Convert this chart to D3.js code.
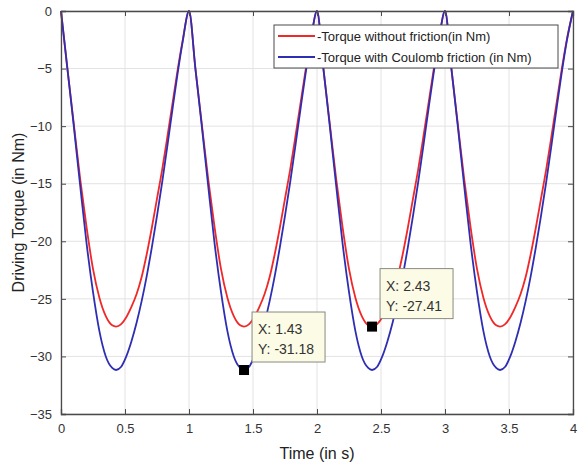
<!DOCTYPE html>
<html>
<head>
<meta charset="utf-8">
<script src="https://cdn.jsdelivr.net/npm/d3@7"></script>
<style>
  html, body { margin: 0; padding: 0; background: #fff; }
  svg { display: block; font-family: "Liberation Sans", Arial, sans-serif; }
</style>
</head>
<body>
<svg id="chart" width="579" height="471"></svg>
<script>
// ---- data ----
const time = [
  0,0.05,0.1,0.15,0.2,0.25,0.3,0.35,0.4,0.43,0.47,0.51,0.55,0.59,0.63,0.67,0.71,0.75,0.79,0.83,0.87,0.91,0.95,1,
  1.05,1.1,1.15,1.2,1.25,1.3,1.35,1.4,1.43,1.47,1.51,1.55,1.59,1.63,1.67,1.71,1.75,1.79,1.83,1.87,1.91,1.95,2,
  2.05,2.1,2.15,2.2,2.25,2.3,2.35,2.4,2.43,2.47,2.51,2.55,2.59,2.63,2.67,2.71,2.75,2.79,2.83,2.87,2.91,2.95,3,
  3.05,3.1,3.15,3.2,3.25,3.3,3.35,3.4,3.43,3.47,3.51,3.55,3.59,3.63,3.67,3.71,3.75,3.79,3.83,3.87,3.91,3.95,4
];
const torqueNoFriction = [
  0,-5,-9.8,-14.6,-18.8,-22.4,-24.9,-26.5,-27.3,-27.41,-27.2,-26.6,-25.7,-24.6,-23.1,-21.1,-18.8,-16.3,-13.8,-11,-8.1,-5.2,-2.6,0,
  -5,-9.8,-14.6,-18.8,-22.4,-24.9,-26.5,-27.3,-27.41,-27.2,-26.6,-25.7,-24.6,-23.1,-21.1,-18.8,-16.3,-13.8,-11,-8.1,-5.2,-2.6,0,
  -5,-9.8,-14.6,-18.8,-22.4,-24.9,-26.5,-27.3,-27.41,-27.2,-26.6,-25.7,-24.6,-23.1,-21.1,-18.8,-16.3,-13.8,-11,-8.1,-5.2,-2.6,0,
  -5,-9.8,-14.6,-18.8,-22.4,-24.9,-26.5,-27.3,-27.41,-27.2,-26.6,-25.7,-24.6,-23.1,-21.1,-18.8,-16.3,-13.8,-11,-8.1,-5.2,-2.6,0
];
const torqueCoulomb = [
  0,-5,-10,-15.2,-20.2,-24.4,-27.8,-30,-31,-31.18,-30.9,-30,-28.7,-27.1,-25.2,-23,-20.5,-17.8,-14.9,-11.8,-8.6,-5.5,-2.7,0,
  -5,-10,-15.2,-20.2,-24.4,-27.8,-30,-31,-31.18,-30.9,-30,-28.7,-27.1,-25.2,-23,-20.5,-17.8,-14.9,-11.8,-8.6,-5.5,-2.7,0,
  -5,-10,-15.2,-20.2,-24.4,-27.8,-30,-31,-31.18,-30.9,-30,-28.7,-27.1,-25.2,-23,-20.5,-17.8,-14.9,-11.8,-8.6,-5.5,-2.7,0,
  -5,-10,-15.2,-20.2,-24.4,-27.8,-30,-31,-31.18,-30.9,-30,-28.7,-27.1,-25.2,-23,-20.5,-17.8,-14.9,-11.8,-8.6,-5.5,-2.7,0
];
const xTicks = [0, 0.5, 1, 1.5, 2, 2.5, 3, 3.5, 4];
const yTicks = [0, -5, -10, -15, -20, -25, -30, -35];
const seriesNames = ["-Torque without friction(in Nm)", "-Torque with Coulomb friction (in Nm)"];
const tipX = [1.43, 2.43];
const tipY = [-31.18, -27.41];

// ---- layout ----
const L = 61, R = 573, T = 11, B = 414;
const axisColor = "#4a4a4a";
const textColor = "#333";
const colors = ["#f02828", "#2e2eb4"];

const svg = d3.select("#chart");
const x = d3.scaleLinear().domain([0, 4]).range([L, R]);
const y = d3.scaleLinear().domain([-35, 0]).range([B, T]);

// grid
const grid = svg.append("g");
grid.selectAll("line.gx").data(xTicks).join("line")
  .attr("x1", d => x(d)).attr("x2", d => x(d)).attr("y1", T).attr("y2", B)
  .attr("stroke", "#e3e3e3").attr("stroke-width", 1);
grid.selectAll("line.gy").data(yTicks).join("line")
  .attr("y1", d => y(d)).attr("y2", d => y(d)).attr("x1", L).attr("x2", R)
  .attr("stroke", "#e3e3e3").attr("stroke-width", 1);

// lines
const seriesData = [torqueNoFriction, torqueCoulomb];
const line = d3.line().x(d => x(d[0])).y(d => y(d[1])).curve(d3.curveMonotoneX);
seriesData.forEach((vals, i) => {
  svg.append("path")
    .datum(time.map((t, k) => [t, vals[k]]))
    .attr("fill", "none")
    .attr("stroke", colors[i])
    .attr("stroke-width", 1.8)
    .attr("stroke-linejoin", "round")
    .attr("d", line);
});

// axes (ticks inside, box)
const tickLen = 5;
const xAxisB = d3.axisBottom(x).tickValues(xTicks).tickSize(-tickLen).tickPadding(10).tickFormat(d3.format("~g"));
const xAxisT = d3.axisTop(x).tickValues(xTicks).tickSize(-tickLen).tickFormat("");
const yAxisL = d3.axisLeft(y).tickValues(yTicks).tickSize(-tickLen).tickPadding(9).tickFormat(d3.format("~g"));
const yAxisR = d3.axisRight(y).tickValues(yTicks).tickSize(-tickLen).tickFormat("");

function style(g) {
  g.select(".domain").attr("stroke", axisColor).attr("stroke-width", 1.3);
  g.selectAll(".tick line").attr("stroke", axisColor).attr("stroke-width", 1);
  g.selectAll(".tick text").attr("fill", textColor).style("font-size", "13px")
    .style("font-family", "'Liberation Sans', Arial, sans-serif");
}
svg.append("g").attr("transform", `translate(0,${B})`).call(xAxisB).call(style);
svg.append("g").attr("transform", `translate(0,${T})`).call(xAxisT).call(style);
svg.append("g").attr("transform", `translate(${L},0)`).call(yAxisL).call(style);
svg.append("g").attr("transform", `translate(${R},0)`).call(yAxisR).call(style);

// axis labels
svg.append("text").attr("x", (L + R) / 2).attr("y", 459)
  .attr("text-anchor", "middle").attr("fill", "#222").style("font-size", "16px")
  .text("Time (in s)");
svg.append("text").attr("transform", `translate(24,${(T + B) / 2}) rotate(-90)`)
  .attr("text-anchor", "middle").attr("fill", "#222").style("font-size", "16px")
  .text("Driving Torque (in Nm)");

// legend
const lg = svg.append("g");
lg.append("rect").attr("x", 274).attr("y", 25).attr("width", 284).attr("height", 43)
  .attr("fill", "#fff").attr("stroke", axisColor).attr("stroke-width", 1);
seriesNames.forEach((name, i) => {
  const yy = 36 + i * 21;
  lg.append("line").attr("x1", 278).attr("x2", 315).attr("y1", yy).attr("y2", yy)
    .attr("stroke", colors[i]).attr("stroke-width", 1.8);
  lg.append("text").attr("x", 317).attr("y", yy + 4.5).attr("fill", "#222")
    .style("font-size", "13px").text(name);
});

// data tips
tipX.forEach((tx, i) => {
  const px = x(tx), py = y(tipY[i]);
  const bx = px + 8, by = py - 8 - 50;
  const g = svg.append("g");
  g.append("rect").attr("x", bx).attr("y", by).attr("width", 73).attr("height", 50)
    .attr("fill", "#fbfbe6").attr("stroke", "#8a8a80").attr("stroke-width", 1);
  g.append("text").attr("x", bx + 6).attr("y", by + 22).attr("fill", "#333")
    .style("font-size", "14px").text("X: " + tx);
  g.append("text").attr("x", bx + 6).attr("y", by + 42).attr("fill", "#333")
    .style("font-size", "14px").text("Y: " + tipY[i]);
  g.append("rect").attr("x", px - 5).attr("y", py - 5).attr("width", 10).attr("height", 10)
    .attr("fill", "#000");
});
</script>
</body>
</html>
